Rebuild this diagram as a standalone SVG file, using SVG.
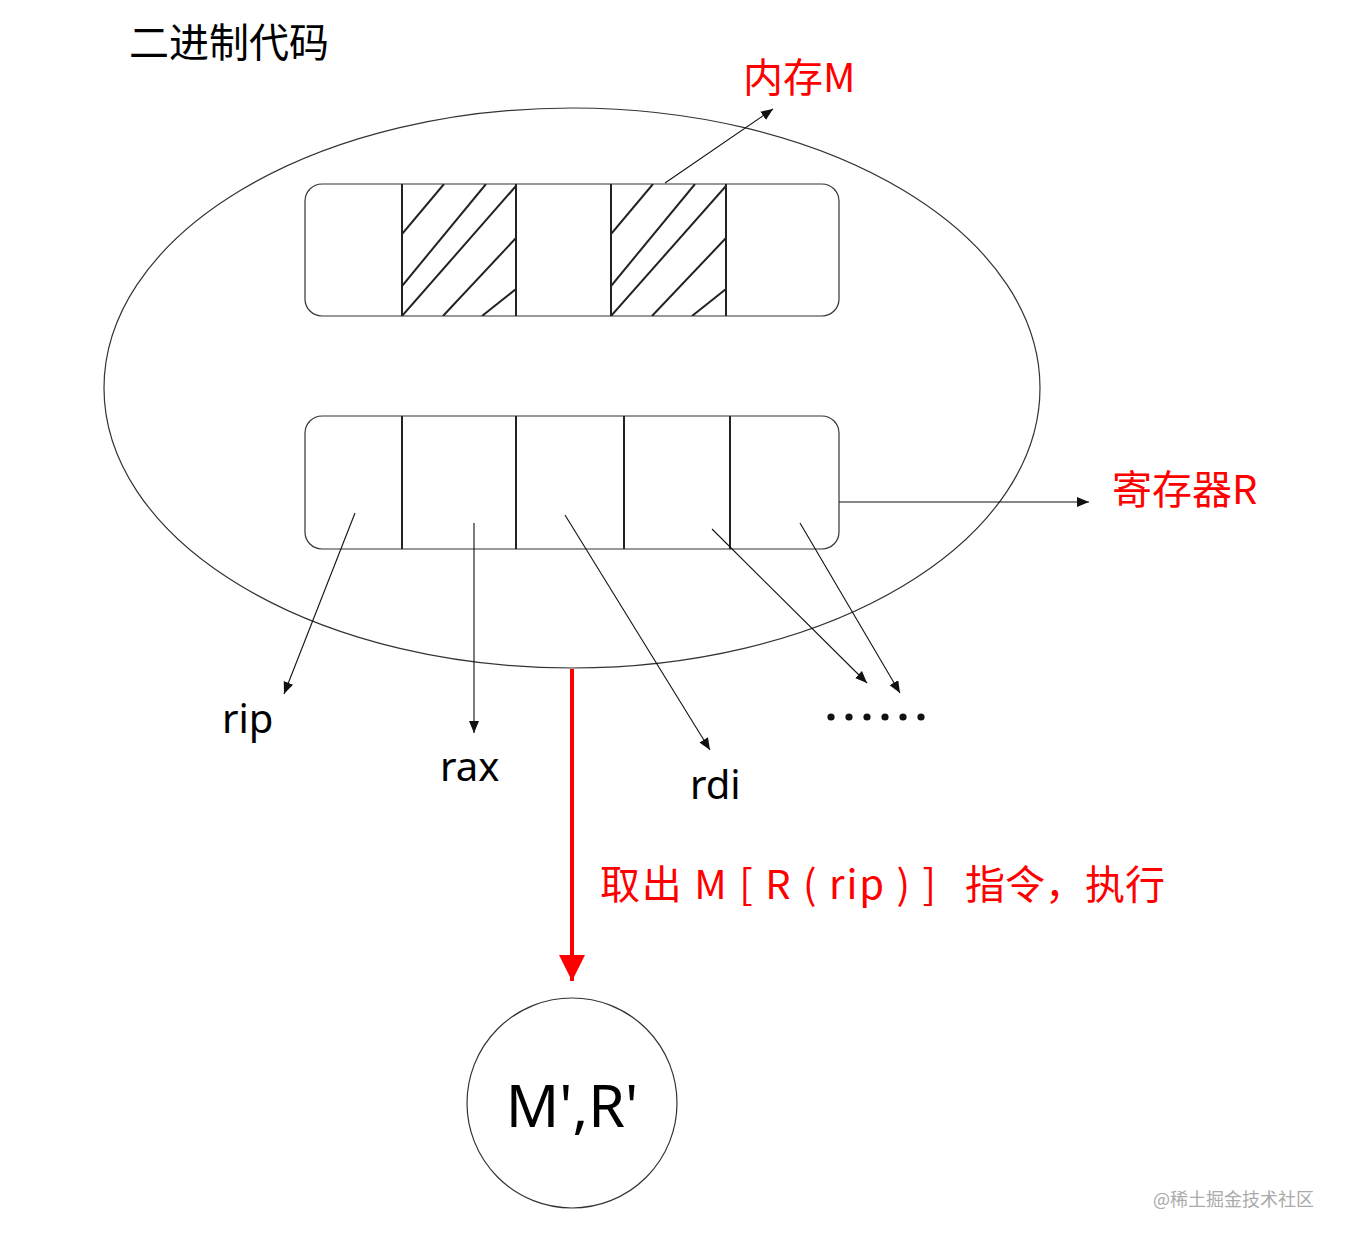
<svg xmlns="http://www.w3.org/2000/svg" width="1346" height="1241" viewBox="0 0 1346 1241">
<style>
.thin{fill:none;stroke:#333;stroke-width:1.2}
.div{stroke:#222;stroke-width:2}
.hatch{stroke:#222;stroke-width:2}
.conn{stroke:#111;stroke-width:1.1;fill:none}
.cjk{font-family:"Noto Sans CJK SC","Noto Sans",sans-serif}
.lat{font-family:"Noto Sans","Liberation Sans",sans-serif}
.red{fill:#f00}
</style>
<defs>
<marker id="ah" markerUnits="userSpaceOnUse" markerWidth="14" markerHeight="12" refX="12" refY="5" orient="auto">
<path d="M0,0 L12,5 L0,10 z" fill="#111"/>
</marker>
<marker id="ahr" markerUnits="userSpaceOnUse" markerWidth="26" markerHeight="28" refX="26" refY="13" orient="auto">
<path d="M0,0 L26,13 L0,26 z" fill="#f00"/>
</marker>
<clipPath id="c1"><rect x="402" y="184" width="114" height="132"/></clipPath>
<clipPath id="c2"><rect x="611" y="184" width="115" height="132"/></clipPath>
</defs>
<rect width="1346" height="1241" fill="#fff"/>

<g id="title"><text class="cjk" x="129" y="57" font-size="40" fill="#000">二进制代码</text></g>

<g id="program-ellipse"><ellipse cx="572" cy="388" rx="468" ry="280" class="thin" stroke="#444"/></g>

<g id="memory">
<rect x="305" y="184" width="534" height="132" rx="17" class="thin"/>
<line class="div" x1="402" y1="184" x2="402" y2="316"/>
<line class="div" x1="516" y1="184" x2="516" y2="316"/>
<line class="div" x1="611" y1="184" x2="611" y2="316"/>
<line class="div" x1="726" y1="184" x2="726" y2="316"/>
<g clip-path="url(#c1)">
<line class="hatch" x1="402" y1="234" x2="444" y2="184"/>
<line class="hatch" x1="402" y1="286" x2="486" y2="184"/>
<line class="hatch" x1="402" y1="316" x2="516" y2="186"/>
<line class="hatch" x1="443" y1="316" x2="516" y2="238"/>
<line class="hatch" x1="482" y1="316" x2="516" y2="289"/>
</g>
<g clip-path="url(#c2)">
<line class="hatch" x1="611" y1="234" x2="653" y2="184"/>
<line class="hatch" x1="611" y1="286" x2="695" y2="184"/>
<line class="hatch" x1="611" y1="316" x2="726" y2="186"/>
<line class="hatch" x1="652" y1="316" x2="726" y2="238"/>
<line class="hatch" x1="692" y1="316" x2="726" y2="289"/>
</g>
</g>

<g id="registers">
<rect x="305" y="416" width="534" height="133" rx="17" class="thin"/>
<line class="div" x1="402" y1="416" x2="402" y2="549"/>
<line class="div" x1="516" y1="416" x2="516" y2="549"/>
<line class="div" x1="624" y1="416" x2="624" y2="549"/>
<line class="div" x1="730" y1="416" x2="730" y2="549"/>
</g>

<g id="connectors">
<line class="conn" x1="665" y1="183" x2="773" y2="109" marker-end="url(#ah)"/>
<line class="conn" x1="839" y1="502" x2="1089" y2="502" marker-end="url(#ah)"/>
<line class="conn" x1="355" y1="513" x2="284" y2="694" marker-end="url(#ah)"/>
<line class="conn" x1="474" y1="523" x2="474" y2="733" marker-end="url(#ah)"/>
<line class="conn" x1="565" y1="515" x2="710" y2="750" marker-end="url(#ah)"/>
<line class="conn" x1="712" y1="529" x2="867" y2="683" marker-end="url(#ah)"/>
<line class="conn" x1="800" y1="523" x2="900" y2="693" marker-end="url(#ah)"/>
<line x1="572" y1="669" x2="572" y2="981" stroke="#f00" stroke-width="4" marker-end="url(#ahr)"/>
</g>

<g id="labels">
<text class="cjk red" x="743" y="92" font-size="40">内存M</text>
<text class="cjk red" x="1112" y="504" font-size="40">寄存器R</text>
<text class="lat" x="222" y="733" font-size="40">rip</text>
<text class="lat" x="440" y="781" font-size="40">rax</text>
<text class="lat" x="690" y="799" font-size="40">rdi</text>
<g id="dots" fill="#111">
<circle cx="831" cy="717" r="3.6"/><circle cx="849" cy="717" r="3.6"/><circle cx="867" cy="717" r="3.6"/>
<circle cx="885" cy="717" r="3.6"/><circle cx="903" cy="717" r="3.6"/><circle cx="921" cy="717" r="3.6"/>
</g>
<text class="cjk red" font-size="40" y="899"><tspan x="600" textLength="336" lengthAdjust="spacing">取出 M [ R ( rip ) ]</tspan><tspan x="965">指令，执行</tspan></text>
</g>

<g id="result">
<circle cx="572" cy="1103" r="105" class="thin"/>
<text class="lat" x="572" y="1127" font-size="59" text-anchor="middle">M',R'</text>
</g>

<g id="watermark"><text class="cjk" x="1153" y="1206" font-size="18" fill="#aaa">@稀土掘金技术社区</text></g>
</svg>
